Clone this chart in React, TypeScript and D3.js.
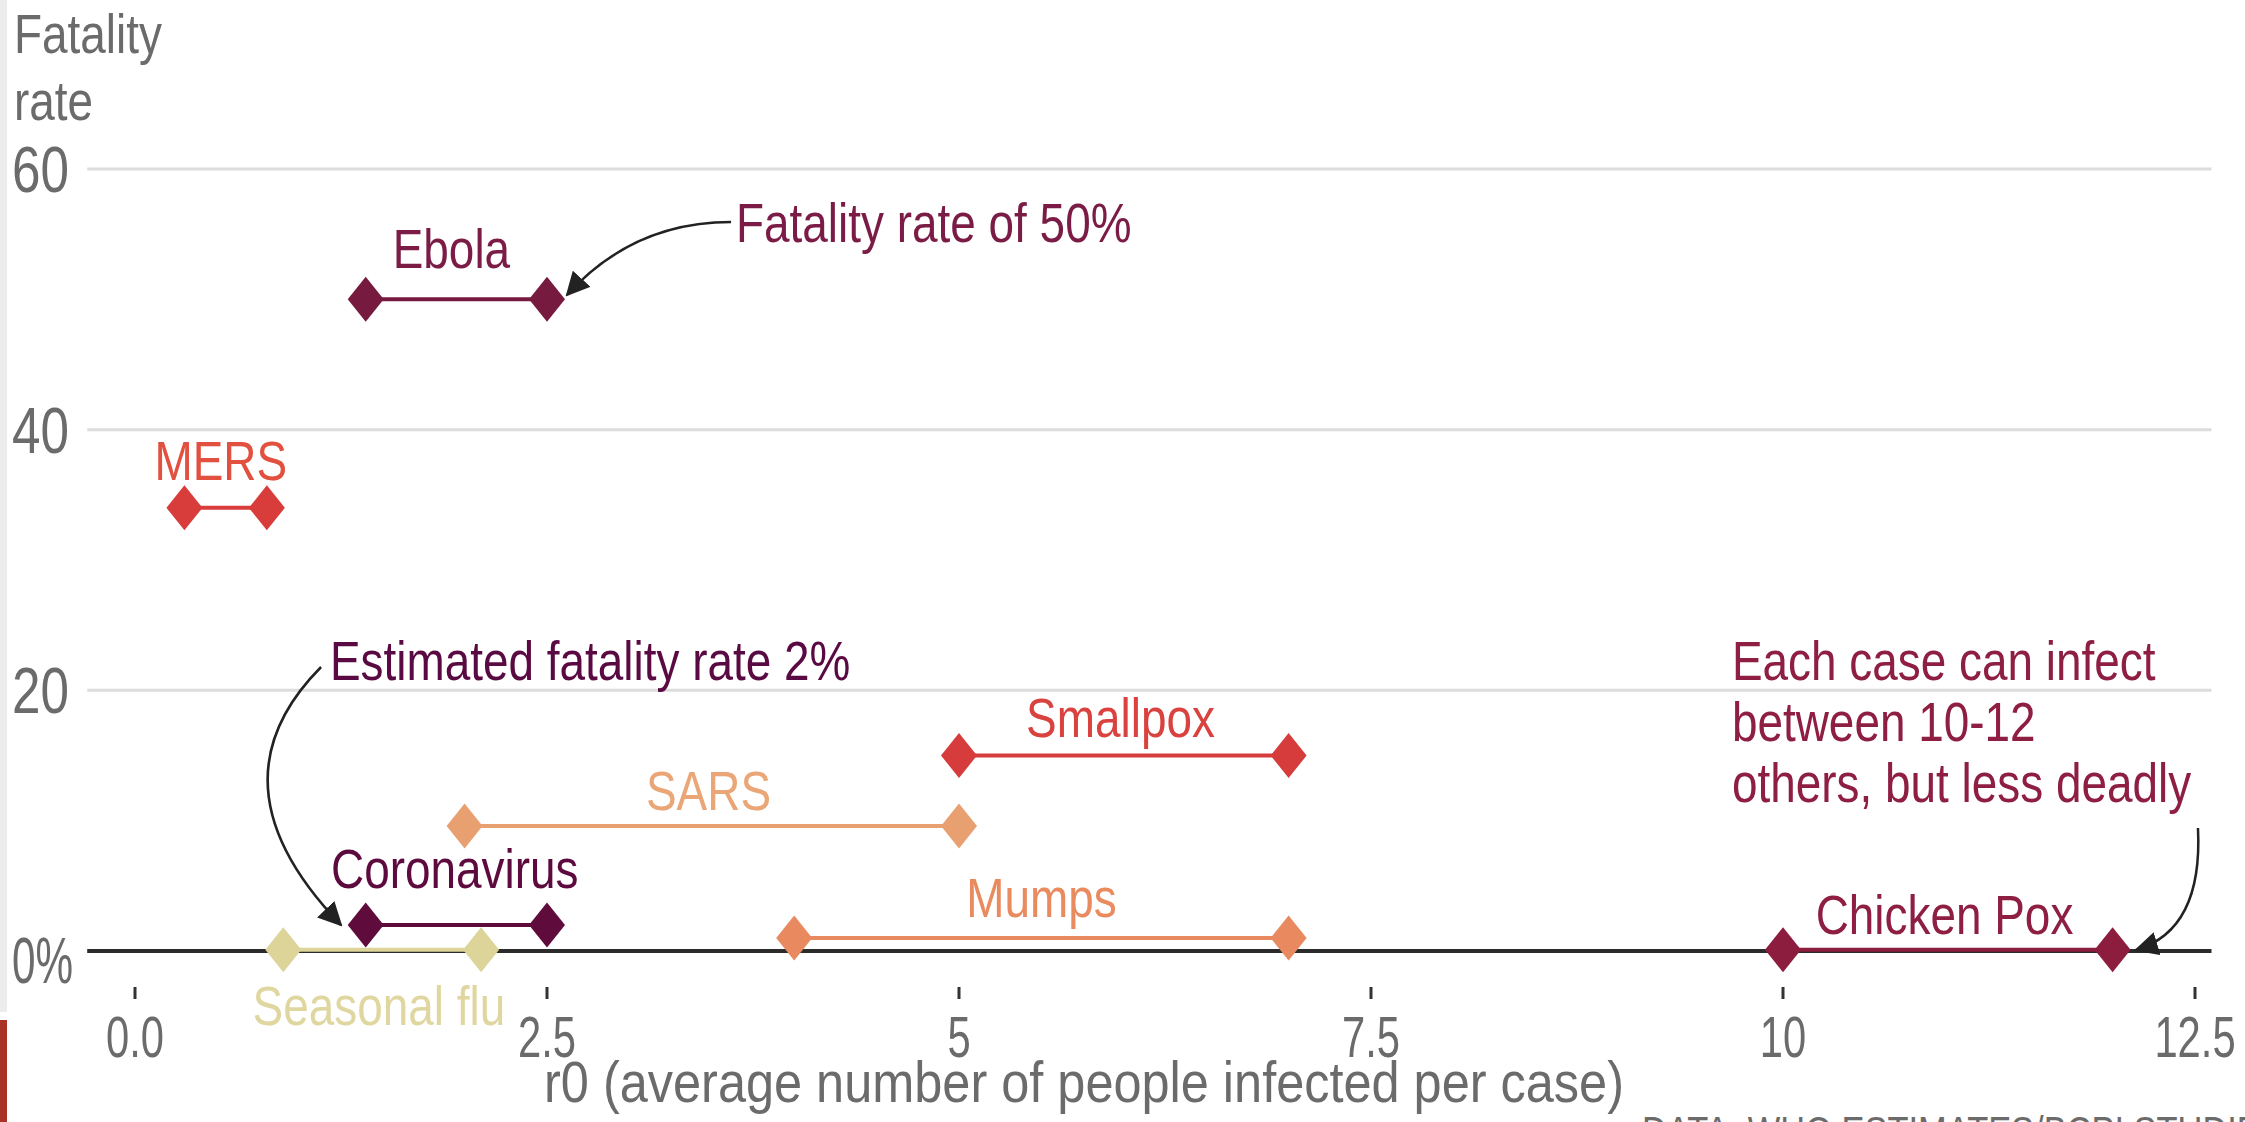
import React from "react";
import * as d3 from "d3";

// one row per disease
const diseases = ["Ebola", "MERS", "Smallpox", "SARS", "Coronavirus", "Mumps", "Seasonal flu", "Chicken Pox"];
const r0Low = [1.4, 0.3, 5, 2, 1.4, 4, 0.9, 10];
const r0High = [2.5, 0.8, 7, 5, 2.5, 7, 2.1, 12];
const fatality = [50, 34, 15, 9.6, 2, 1, 0.1, 0.1];
const colors = ["#771a3f", "#d93d3b", "#d63c3c", "#e8a071", "#5f0b3c", "#e8895f", "#ddd49a", "#8c1d3e"];
const textColors = ["#7a1c45", "#e2503f", "#d9423f", "#eba677", "#5d0a3f", "#ea8a5f", "#e0d7a0", "#8e1f43"];
// where the disease names sit (data units)
const labelX = [1.92, 0.52, 5.98, 3.48, 1.94, 5.5, 1.48, 10.98];
const labelY = [52.4, 36.1, 16.4, 10.8, 4.8, 2.6, -5.7, 1.3];

const xTicks = [0, 2.5, 5, 7.5, 10, 12.5];
const xTickLabels = ["0.0", "2.5", "5", "7.5", "10", "12.5"];
const yTicks = [0, 20, 40, 60];
const yTickLabels = ["0%", "20", "40", "60"];

// annotations (data units)
const notes = [
  { lines: ["Fatality rate of 50%"], x: 3.647, y: 54.4, color: "#7a1c45" },
  { lines: ["Estimated fatality rate 2%"], x: 1.183, y: 20.8, color: "#5a0a42" },
  { lines: ["Each case can infect", "between 10-12", "others, but less deadly"], x: 9.69, y: 20.8, color: "#8e1f43" },
];
const arrows = [
  [[3.617, 55.93], [3.022, 55.93], [2.621, 50.33]],
  [[1.129, 21.79], [0.425, 12.81], [1.25, 1.99]],
  [[12.518, 9.44], [12.549, 1.61], [12.142, 0.08]],
];

const W = 2245;
const H = 1122;
// no condensed face installed, so squeeze Liberation Sans horizontally
const FONT = "'Liberation Sans', Arial, sans-serif";
const NARROW = 0.82;

const x = d3.scaleLinear().domain([0, 12.5]).range([135, 2195]);
const y = d3.scaleLinear().domain([0, 60]).range([951, 169]);
const panelLeft = x(-0.29);
const panelRight = x(12.6);

const diamond = {
  draw(ctx: any, size: number) {
    const w = size * 0.8;
    ctx.moveTo(0, -size);
    ctx.lineTo(w, 0);
    ctx.lineTo(0, size);
    ctx.lineTo(-w, 0);
    ctx.closePath();
  },
};
const diamondPath = d3.symbol(diamond as any, 22.5)() as string;

function T(props: any) {
  const { x, y, size, fill, anchor = "start", sx = NARROW, lines, gap = 0 } = props;
  return (
    <text transform={`translate(${x},${y}) scale(${sx},1)`} fontSize={size} fill={fill} textAnchor={anchor}>
      {lines.map((l: string, j: number) => (
        <tspan key={j} x={0} y={j * gap}>{l}</tspan>
      ))}
    </text>
  );
}

export default function App() {
  return (
    <svg width={W} height={H} style={{ position: "absolute", left: 0, top: 0, background: "#fff" }} fontFamily={FONT}>
      <defs>
        <marker id="head" viewBox="0 0 24 24" refX="22" refY="12" markerWidth="24" markerHeight="24"
          markerUnits="userSpaceOnUse" orient="auto">
          <path d="M0,0 L24,12 L0,24 z" fill="#222" />
        </marker>
      </defs>

      {/* edge strips from the screenshot */}
      <rect x={0} y={0} width={7} height={1012} fill="#ececec" />
      <rect x={0} y={1020} width={7} height={H - 1020} fill="#a83226" />

      {/* y axis title */}
      <T x={14} y={53} size={56} fill="#6b6b6b" lines={["Fatality", "rate"]} gap={67} />

      {/* grid */}
      {yTicks.map((t, i) => (
        <g key={t}>
          {t !== 0 && (
            <line x1={panelLeft} x2={panelRight} y1={y(t)} y2={y(t)} stroke="#dcdcdc" strokeWidth={3} />
          )}
          <T x={12} y={y(t) + (t === 0 ? 32 : 23)} size={64} sx={t === 0 ? 0.66 : 0.8} fill="#6b6b6b"
            lines={[yTickLabels[i]]} />
        </g>
      ))}
      <line x1={panelLeft} x2={panelRight} y1={y(0)} y2={y(0)} stroke="#2b2b2b" strokeWidth={4} />

      {/* x axis */}
      {xTicks.map((t, i) => (
        <g key={t}>
          <line x1={x(t)} x2={x(t)} y1={987} y2={999} stroke="#333" strokeWidth={3} />
          <T x={x(t)} y={1057} size={58} sx={0.72} fill="#6b6b6b" anchor="middle" lines={[xTickLabels[i]]} />
        </g>
      ))}
      <T x={1084} y={1102} size={58} sx={0.87} fill="#6b6b6b" anchor="middle"
        lines={["r0 (average number of people infected per case)"]} />
      <T x={1642} y={1146} size={42} fill="#6b6b6b" lines={["DATA: WHO ESTIMATES/BCPI STUDIES"]} />

      {/* ranges */}
      {diseases.map((d, i) => (
        <g key={d}>
          <line x1={x(r0Low[i])} x2={x(r0High[i])} y1={y(fatality[i])} y2={y(fatality[i])}
            stroke={colors[i]} strokeWidth={4} />
          {[r0Low[i], r0High[i]].map((v, j) => (
            <path key={j} d={diamondPath} transform={`translate(${x(v)},${y(fatality[i])})`} fill={colors[i]} />
          ))}
          <T x={x(labelX[i])} y={y(labelY[i])} size={56} fill={textColors[i]} anchor="middle" lines={[d]} />
        </g>
      ))}

      {/* annotations */}
      {arrows.map((a, i) => {
        const p = d3.path();
        p.moveTo(x(a[0][0]), y(a[0][1]));
        p.quadraticCurveTo(x(a[1][0]), y(a[1][1]), x(a[2][0]), y(a[2][1]));
        return <path key={i} d={p.toString()} fill="none" stroke="#222" strokeWidth={2.5} markerEnd="url(#head)" />;
      })}
      {notes.map((n, i) => (
        <T key={i} x={x(n.x)} y={y(n.y)} size={56} fill={n.color} lines={n.lines} gap={61} />
      ))}
    </svg>
  );
}
